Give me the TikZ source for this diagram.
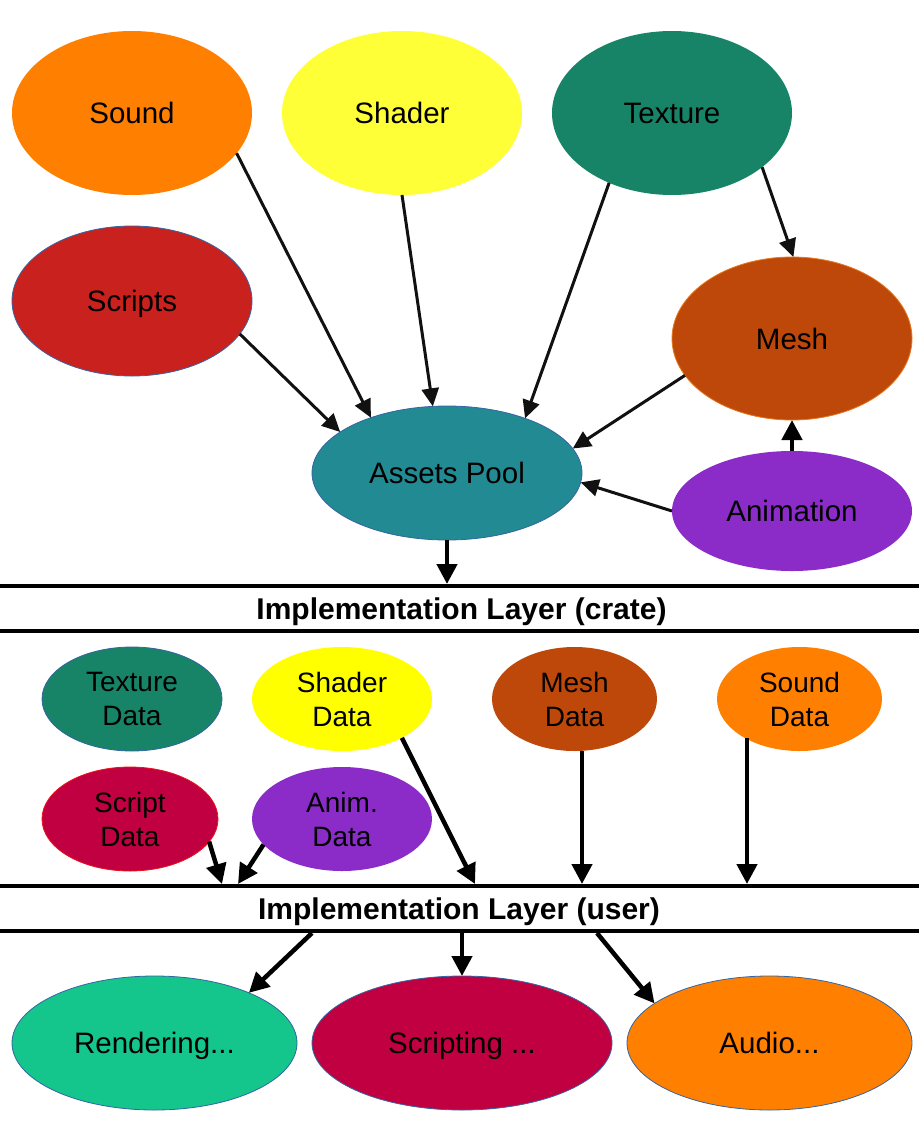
\documentclass[tikz,border=0pt]{standalone}
\usepackage{fontspec}
\setmainfont{Liberation Sans}
\usetikzlibrary{arrows.meta,shapes.geometric}
\definecolor{cSound}{HTML}{FF8000}
\definecolor{cShader}{HTML}{FFFF38}
\definecolor{cShaderD}{HTML}{FFFF00}
\definecolor{cTexture}{HTML}{178467}
\definecolor{cScripts}{HTML}{C9211E}
\definecolor{cMesh}{HTML}{BE480A}
\definecolor{cMeshRim}{HTML}{E8791C}
\definecolor{cAssets}{HTML}{228A92}
\definecolor{cAnim}{HTML}{8B2CC9}
\definecolor{cScriptD}{HTML}{C00040}
\definecolor{cRender}{HTML}{14C68B}
\definecolor{rimblue}{HTML}{3465A4}
\definecolor{rimred}{HTML}{F0101A}
\definecolor{arrowgrey}{HTML}{111111}
\begin{document}
\begin{tikzpicture}[x=1pt,y=-1pt,
  shapebase/.style={ellipse,inner sep=0pt,outer sep=0pt,text=black},
  blob/.style={shapebase,text height=21.2pt,text depth=0pt,
    font=\fontsize{29.5}{34}\selectfont},
  dblob/.style={shapebase,align=center,font=\fontsize{28}{34}\selectfont},
  bluerim/.style={draw=rimblue,line width=0.8pt},
  toparrow/.style={draw=arrowgrey,line width=3pt,
    -{Triangle[length=18pt,width=17pt]}},
  lowarrow/.style={draw=black,line width=4.5pt,
    -{Triangle[length=20pt,width=20pt]}},
  layerline/.style={line width=4pt,draw=black},
  layertext/.style={inner sep=0pt,text height=21.5pt,text depth=0pt,
    font=\bfseries\fontsize{30}{34}\selectfont}
]
\useasboundingbox (0,0) rectangle (919,1122);

% top assets
\node[blob,fill=cSound,minimum width=240,minimum height=164] (sound) at (132,113) {Sound};
\node[blob,fill=cShader,minimum width=240,minimum height=164] (shader) at (402,113) {Shader};
\node[blob,fill=cTexture,minimum width=240,minimum height=164] (texture) at (672,113) {Texture};
\node[blob,bluerim,fill=cScripts,minimum width=240,minimum height=150] (scripts) at (132,301) {Scripts};
\node[blob,draw=cMeshRim,line width=0.8pt,fill=cMesh,minimum width=240,minimum height=163] (mesh) at (792,338.5) {Mesh};
\node[blob,bluerim,fill=cAssets,minimum width=270,minimum height=134] (assets) at (447,473) {Assets Pool};
\node[blob,fill=cAnim,minimum width=240,minimum height=120] (anim) at (792,511) {Animation};

% crate layer
\node[layertext] (crate) at (461.5,608.5) {Implementation Layer (crate)};
\draw[layerline] (0,586) -- (919,586);
\draw[layerline] (0,630.5) -- (919,630.5);
\coordinate (crateIn) at (447,584);

% data nodes
\node[dblob,bluerim,fill=cTexture,minimum width=180,minimum height=104] (tdata) at (132,699) {Texture\\Data};
\node[dblob,fill=cShaderD,minimum width=180,minimum height=104] (shdata) at (342,699) {Shader\\Data};
\node[dblob,fill=cMesh,minimum width=165,minimum height=104] (mdata) at (574.5,699) {Mesh\\Data};
\node[dblob,fill=cSound,minimum width=165,minimum height=104] (sodata) at (799.5,699) {Sound\\Data};
\node[dblob,draw=rimred,line width=0.8pt,fill=cScriptD,minimum width=176,minimum height=104] (scdata) at (130,819) {Script\\Data};
\node[dblob,fill=cAnim,minimum width=180,minimum height=104] (andata) at (342,819) {Anim.\\Data};

% user layer
\node[layertext] (user) at (459,909) {Implementation Layer (user)};
\draw[layerline] (0,886) -- (919,886);
\draw[layerline] (0,931) -- (919,931);
\coordinate (scEnd) at (222,884);
\coordinate (anEnd) at (238,884);
\coordinate (shEnd) at (475,884);
\coordinate (mdEnd) at (582,884);
\coordinate (soEnd) at (747,884);
\coordinate (rStart) at (312,933);
\coordinate (sStart) at (462,933);
\coordinate (aStart) at (597,933);

% bottom systems
\node[blob,bluerim,fill=cRender,minimum width=285,minimum height=134] (rendering) at (154.5,1043) {Rendering...};
\node[blob,bluerim,fill=cScriptD,minimum width=300,minimum height=134] (scripting) at (462,1043) {Scripting ...};
\node[blob,bluerim,fill=cSound,minimum width=285,minimum height=134] (audio) at (769.5,1043) {Audio...};

% top arrows
\draw[toparrow] (sound.339.6) -- (assets.144.8);
\draw[toparrow] (shader.south) -- (assets.102.4);
\draw[toparrow] (texture.228.6) -- (assets.35.8);
\draw[toparrow] (texture.329.5) -- (mesh.89);
\draw[toparrow] (scripts.343.6) -- (assets.159.6);
\draw[toparrow] (mesh.199.9) -- (assets.11.2);
\draw[toparrow] (anim.west) -- (assets.356.2);
\draw[lowarrow] (anim.north) -- (mesh.south);
\draw[lowarrow] (assets.south) -- (crateIn);

% data arrows
\draw[lowarrow] (scdata.344.1) -- (scEnd);
\draw[lowarrow] (andata.198) -- (anEnd);
\draw[lowarrow] (shdata.327.7) -- (shEnd);
\draw[lowarrow] (mdata.south -| mdEnd) -- (mdEnd);
\draw[lowarrow] ([xshift=-52.5pt,yshift=-39pt]sodata.center) -- (soEnd);

% user layer arrows
\draw[lowarrow] (rStart) -- (rendering.28.2);
\draw[lowarrow] (sStart) -- (scripting.north);
\draw[lowarrow] (aStart) -- (audio.161.1);
\end{tikzpicture}
\end{document}
